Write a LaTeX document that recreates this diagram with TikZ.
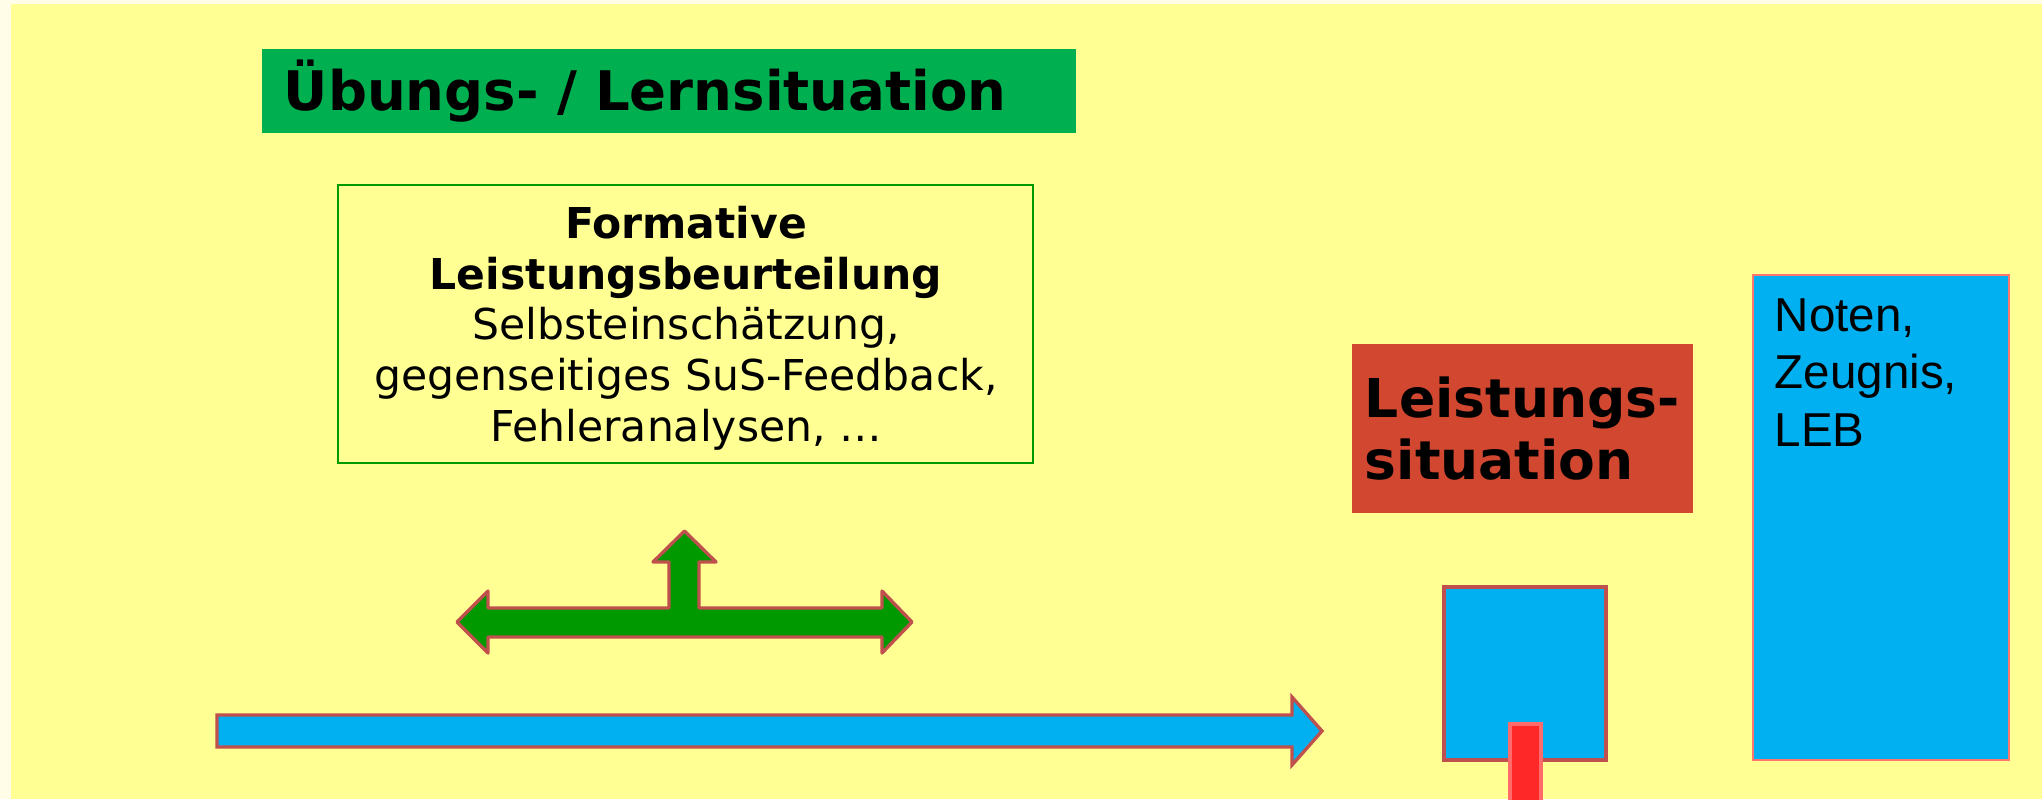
\documentclass[tikz,border=0pt]{standalone}
\usepackage{fontspec}
\setmainfont{DejaVu Sans}
\newfontfamily\arialfont{Liberation Sans}
\definecolor{cream}{RGB}{255,252,232}
\definecolor{bgyellow}{RGB}{255,255,148}
\definecolor{titlegreen}{RGB}{0,176,80}
\definecolor{darkgreen}{RGB}{0,153,0}
\definecolor{outlinered}{RGB}{192,80,77}
\definecolor{skyblue}{RGB}{0,176,240}
\definecolor{brickred}{RGB}{209,71,48}
\definecolor{salmon}{RGB}{255,118,112}
\definecolor{barred}{RGB}{255,40,40}
\definecolor{barborder}{RGB}{255,107,107}
\begin{document}
\begin{tikzpicture}[x=0.01cm,y=-0.01cm,
  titlebox/.style={fill=titlegreen, draw=none, minimum width=8.14cm, minimum height=0.84cm,
    inner xsep=0.22cm, inner ysep=0pt, text width=7.70cm, align=left,
    font=\fontsize{15.51pt}{18.6pt}\selectfont\bfseries},
  formbox/.style={draw=darkgreen, line width=0.57pt, fill=bgyellow, minimum width=6.95cm,
    minimum height=2.78cm, inner sep=0pt},
  formtext/.style={align=center, inner sep=0pt,
    font=\fontsize{12.09pt}{14.40pt}\selectfont},
  leistbox/.style={fill=brickred, draw=none, minimum width=3.41cm, minimum height=1.69cm,
    inner xsep=0.13cm, inner ysep=0pt, text width=3.15cm, align=left,
    font=\fontsize{15.22pt}{17.78pt}\selectfont\bfseries},
  notenbox/.style={fill=skyblue, draw=salmon, line width=0.57pt, minimum width=2.56cm,
    minimum height=4.85cm, inner sep=0pt},
  notentext/.style={anchor=north west, inner sep=0pt, align=left,
    font=\arialfont\fontsize{13.52pt}{16.36pt}\selectfont},
  smallbox/.style={fill=skyblue, draw=outlinered, line width=0.94pt, minimum width=1.62cm,
    minimum height=1.73cm, inner sep=0pt},
  barbox/.style={fill=barred, draw=barborder, line width=1.14pt},
  greenarrow/.style={fill=darkgreen, draw=outlinered, line width=0.94pt, line join=round},
  bluearrow/.style={fill=skyblue, draw=outlinered, line width=0.94pt, line join=miter}
]
\useasboundingbox (0,0) rectangle (2042,799);
\clip (0,0) rectangle (2042,799);
\fill[cream] (0,0) rectangle (2042,799);
\fill[bgyellow] (11,4) rectangle (2042,799);

\node[titlebox] (title) at (669,91) {Übungs- / Lernsituation};

\node[formbox] (formative) at (685.5,324) {};
\node[formtext] (formtxt) at (686,328) {\textbf{Formative}\\\textbf{Leistungsbeurteilung}\\Selbsteinschätzung,\\gegenseitiges SuS-Feedback,\\Fehleranalysen, …};

% green T-shaped double arrow
\draw[greenarrow] (457,622) -- (488,591) -- (488,608) -- (669,608) -- (669,562) -- (653,562)
  -- (684.5,531) -- (716,562) -- (699,562) -- (699,608) -- (882,608) -- (882,591)
  -- (912,622) -- (882,653) -- (882,637) -- (488,637) -- (488,653) -- cycle;

% long blue arrow
\draw[bluearrow] (217,715) -- (1292,715) -- (1292,697) -- (1322,731) -- (1292,765)
  -- (1292,747) -- (217,747) -- cycle;

\node[leistbox] (leistung) at (1522.5,428.5) {Leistungs-\\situation};

\node[notenbox] (noten) at (1881,517.5) {};
\node[notentext] (notentxt) at (1774,298) {Noten,\\Zeugnis,\\LEB};

\node[smallbox] (small) at (1525,673.5) {};
\draw[barbox] (1510,724) rectangle (1541,830);
\end{tikzpicture}
\end{document}
